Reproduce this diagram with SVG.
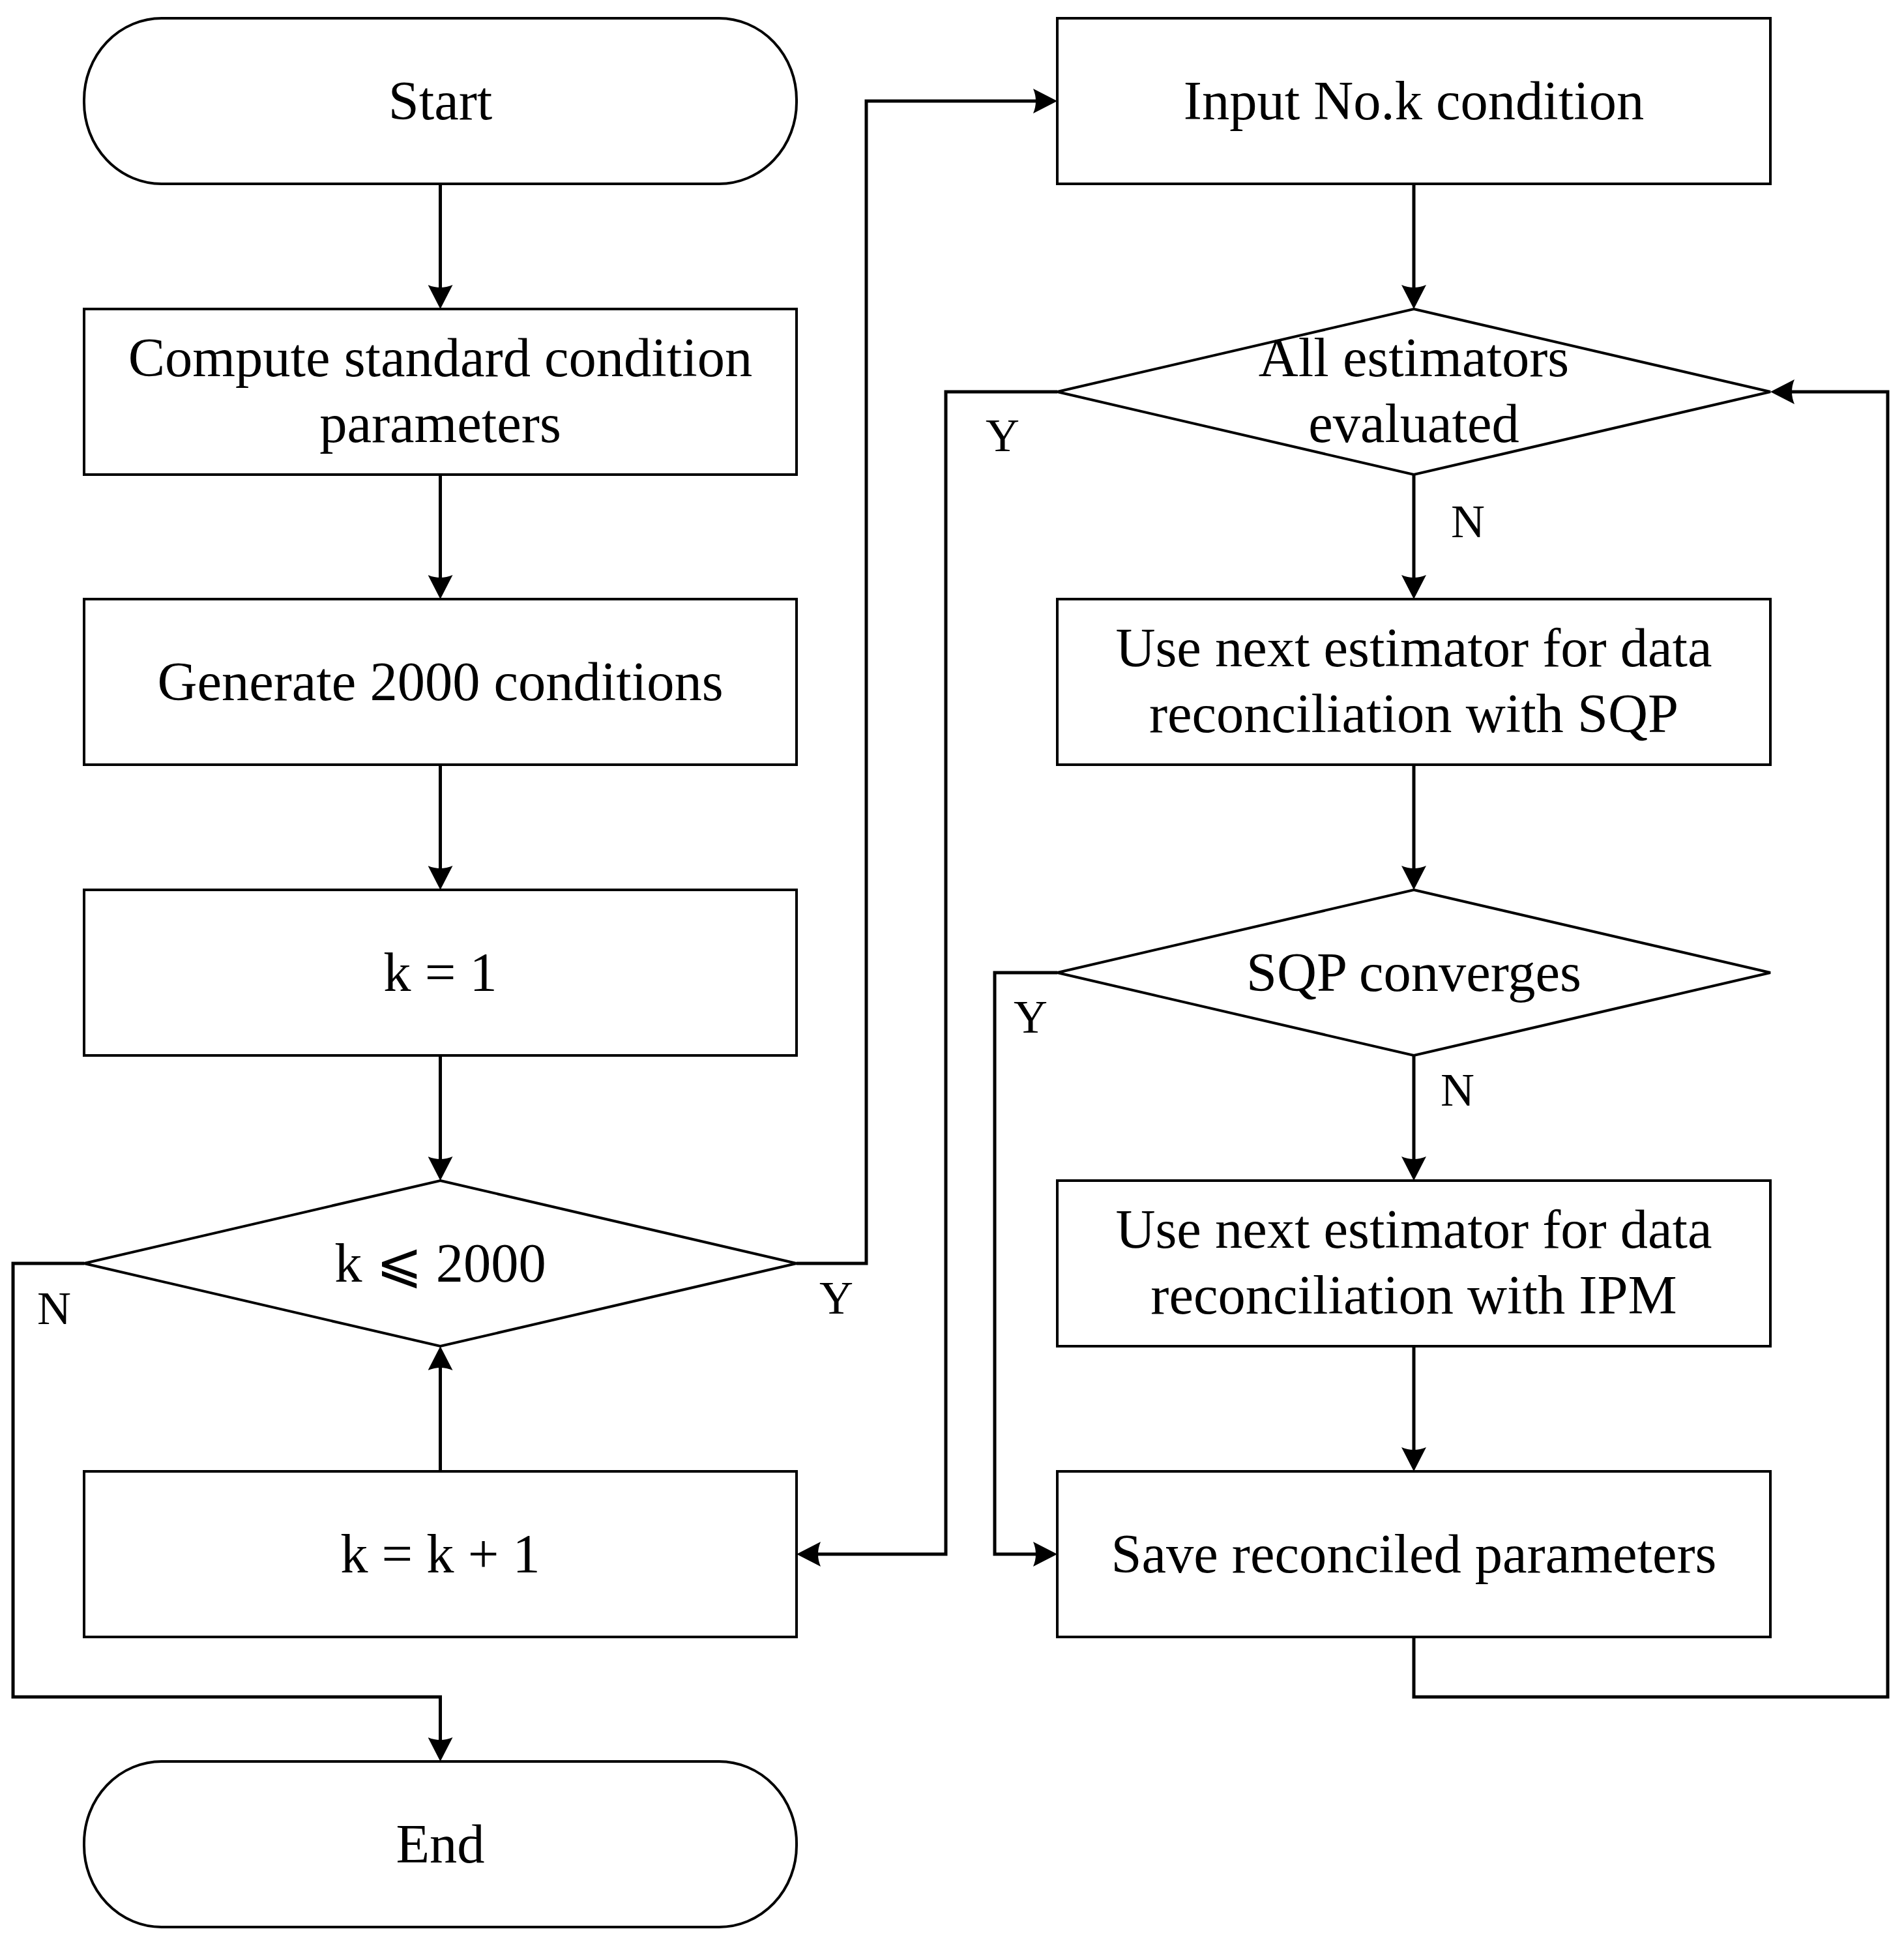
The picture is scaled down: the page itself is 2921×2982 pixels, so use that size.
<svg xmlns="http://www.w3.org/2000/svg" width="2921" height="2982" viewBox="0 0 2921 2982">
<style>
.shape{fill:#fff;stroke:#000;stroke-width:4}
.conn{fill:none;stroke:#000;stroke-width:5;stroke-linejoin:miter}
.t{font-family:"Liberation Serif","DejaVu Serif",serif;font-size:84.5px;fill:#000;text-anchor:middle}
.lbl{font-family:"Liberation Serif","DejaVu Serif",serif;font-size:72px;fill:#000;text-anchor:middle}
</style>
<defs>
<marker id="arr" viewBox="0 0 37 38" markerWidth="37" markerHeight="38" refX="6" refY="19" markerUnits="userSpaceOnUse" orient="auto">
<path d="M0,0 L37,19 L0,38 Q8,19 0,0 Z" fill="#000"/>
</marker>
</defs>
<rect width="2921" height="2982" fill="#fff"/>
<g id="connectors">
<path class="conn" marker-end="url(#arr)" d="M675.5,282 V443"/>
<path class="conn" marker-end="url(#arr)" d="M675.5,728 V888"/>
<path class="conn" marker-end="url(#arr)" d="M675.5,1173 V1334"/>
<path class="conn" marker-end="url(#arr)" d="M675.5,1619 V1780"/>
<path class="conn" marker-end="url(#arr)" d="M675.5,2257 V2096"/>
<path class="conn" marker-end="url(#arr)" d="M1222,1938 H1329 V155 H1591"/>
<path class="conn" marker-end="url(#arr)" d="M129,1938 H20 V2603 H675.5 V2671"/>
<path class="conn" marker-end="url(#arr)" d="M2169,282 V443"/>
<path class="conn" marker-end="url(#arr)" d="M2169,728 V888"/>
<path class="conn" marker-end="url(#arr)" d="M2169,1173 V1334"/>
<path class="conn" marker-end="url(#arr)" d="M2169,1619 V1780"/>
<path class="conn" marker-end="url(#arr)" d="M2169,2065 V2226"/>
<path class="conn" marker-end="url(#arr)" d="M1622,601 H1451 V2384 H1253"/>
<path class="conn" marker-end="url(#arr)" d="M1622,1492 H1526 V2384 H1591"/>
<path class="conn" marker-end="url(#arr)" d="M2169,2511 V2603 H2896 V601 H2747"/>
<text class="lbl" x="1283" y="2015">Y</text>
<text class="lbl" x="83" y="2031">N</text>
<text class="lbl" x="1538" y="692">Y</text>
<text class="lbl" x="2252" y="824">N</text>
<text class="lbl" x="1581" y="1584">Y</text>
<text class="lbl" x="2236" y="1696">N</text>
</g>
<g id="start">
<rect class="shape" x="129" y="28" width="1093" height="254" rx="119" ry="125"/>
<text class="t" x="675.5" y="183">Start</text>
</g>
<g id="compute">
<rect class="shape" x="129" y="474" width="1093" height="254"/>
<text class="t" x="675.5" y="577">Compute standard condition</text>
<text class="t" x="675.5" y="678">parameters</text>
</g>
<g id="generate">
<rect class="shape" x="129" y="919" width="1093" height="254"/>
<text class="t" x="675.5" y="1074">Generate 2000 conditions</text>
</g>
<g id="k1">
<rect class="shape" x="129" y="1365" width="1093" height="254"/>
<text class="t" x="675.5" y="1520">k = 1</text>
</g>
<g id="kcheck">
<polygon class="shape" points="675.5,1811 1222,1938 675.5,2065 129,1938"/>
<text class="t" x="675.5" y="1966">k ⩽ 2000</text>
</g>
<g id="kinc">
<rect class="shape" x="129" y="2257" width="1093" height="254"/>
<text class="t" x="675.5" y="2412">k = k + 1</text>
</g>
<g id="end">
<rect class="shape" x="129" y="2702" width="1093" height="254" rx="119" ry="125"/>
<text class="t" x="675.5" y="2857">End</text>
</g>
<g id="input">
<rect class="shape" x="1622" y="28" width="1094" height="254"/>
<text class="t" x="2169" y="183">Input No.k condition</text>
</g>
<g id="allest">
<polygon class="shape" points="2169,474 2716,601 2169,728 1622,601"/>
<text class="t" x="2169" y="577">All estimators</text>
<text class="t" x="2169" y="678">evaluated</text>
</g>
<g id="sqp">
<rect class="shape" x="1622" y="919" width="1094" height="254"/>
<text class="t" x="2169" y="1022">Use next estimator for data</text>
<text class="t" x="2169" y="1123">reconciliation with SQP</text>
</g>
<g id="sqpconv">
<polygon class="shape" points="2169,1365 2716,1492 2169,1619 1622,1492"/>
<text class="t" x="2169" y="1520">SQP converges</text>
</g>
<g id="ipm">
<rect class="shape" x="1622" y="1811" width="1094" height="254"/>
<text class="t" x="2169" y="1914">Use next estimator for data</text>
<text class="t" x="2169" y="2015">reconciliation with IPM</text>
</g>
<g id="save">
<rect class="shape" x="1622" y="2257" width="1094" height="254"/>
<text class="t" x="2169" y="2412">Save reconciled parameters</text>
</g>
</svg>
